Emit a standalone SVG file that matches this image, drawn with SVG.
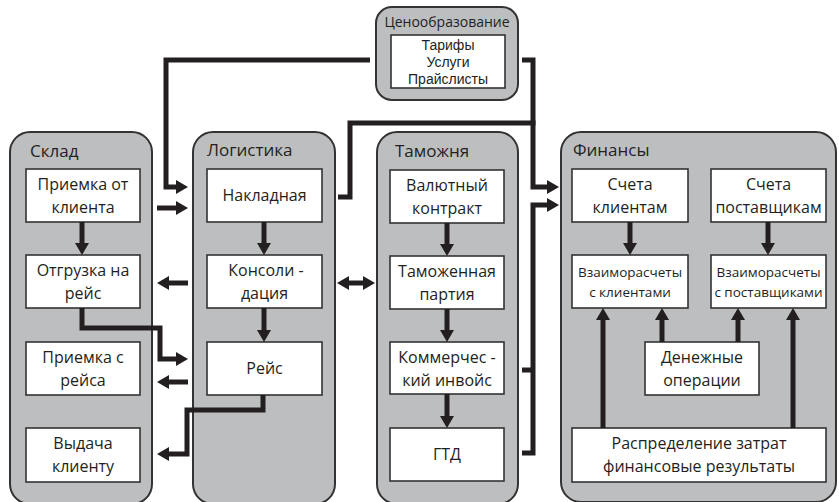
<svg xmlns="http://www.w3.org/2000/svg" width="839" height="502" viewBox="0 0 839 502">
  <defs>
    <marker id="ah" markerUnits="userSpaceOnUse" markerWidth="12" markerHeight="14" refX="0" refY="7" orient="auto-start-reverse" viewBox="0 0 12 14">
      <path d="M0,0 L12,7 L0,14 Z" fill="#231f20"/>
    </marker>
    <style>
      .panel { fill: #bcbec0; stroke: #333; stroke-width: 2; }
      .box { fill: #fff; stroke: #333; stroke-width: 1.6; }
      .ttl { font-family: "Open Sans", "Liberation Sans", sans-serif; font-size: 17px; fill: #231f20; }
      .t { font-family: "Open Sans", "Liberation Sans", sans-serif; font-size: 16px; fill: #231f20; text-anchor: middle; }
      .ts { font-family: "Open Sans", "Liberation Sans", sans-serif; font-size: 13.5px; fill: #231f20; text-anchor: middle; }
      .tp { font-family: "Liberation Sans", "Open Sans", sans-serif; font-size: 14px; fill: #231f20; text-anchor: middle; }
      .ln { fill: none; stroke: #231f20; stroke-width: 5; stroke-linejoin: miter; }
      .ar { fill: none; stroke: #231f20; stroke-width: 5; marker-end: url(#ah); }
    </style>
  </defs>
  <rect width="839" height="502" fill="#fff"/>

  <!-- Склад -->
  <g id="sklad">
    <rect class="panel" x="10" y="132" width="142" height="372" rx="20"/>
    <text class="ttl" x="30" y="157">Склад</text>
  </g>
  <g id="priemka-ot-klienta">
    <rect class="box" x="26" y="169" width="114" height="53"/>
    <text class="t" x="83" y="190">Приемка от</text>
    <text class="t" x="83" y="213">клиента</text>
  </g>
  <g id="otgruzka">
    <rect class="box" x="26" y="255" width="114" height="53"/>
    <text class="t" x="83" y="276">Отгрузка на</text>
    <text class="t" x="83" y="299">рейс</text>
  </g>
  <g id="priemka-s-reisa">
    <rect class="box" x="26" y="342" width="114" height="53"/>
    <text class="t" x="83" y="363">Приемка с</text>
    <text class="t" x="83" y="386">рейса</text>
  </g>
  <g id="vydacha">
    <rect class="box" x="26" y="428" width="114" height="54"/>
    <text class="t" x="83" y="449">Выдача</text>
    <text class="t" x="83" y="472">клиенту</text>
  </g>

  <!-- Логистика -->
  <g id="logistika">
    <rect class="panel" x="193" y="132" width="142" height="372" rx="20"/>
    <text class="ttl" x="207" y="156">Логистика</text>
  </g>
  <g id="nakladnaya">
    <rect class="box" x="207" y="169" width="115" height="53"/>
    <text class="t" x="264.5" y="201">Накладная</text>
  </g>
  <g id="konsolidaciya">
    <rect class="box" x="207" y="255" width="115" height="53"/>
    <text class="t" x="266" y="276">Консоли -</text>
    <text class="t" x="264.5" y="299">дация</text>
  </g>
  <g id="reis">
    <rect class="box" x="207" y="342" width="115" height="53"/>
    <text class="t" x="264.5" y="374">Рейс</text>
  </g>

  <!-- Таможня -->
  <g id="tamozhnya">
    <rect class="panel" x="377" y="132" width="141" height="372" rx="20"/>
    <text class="ttl" x="395" y="157">Таможня</text>
  </g>
  <g id="valyutny-kontrakt">
    <rect class="box" x="390" y="170" width="114" height="53"/>
    <text class="t" x="447" y="191">Валютный</text>
    <text class="t" x="447" y="214">контракт</text>
  </g>
  <g id="tamozhennaya-partiya">
    <rect class="box" x="390" y="256" width="114" height="53"/>
    <text class="t" x="447" y="277">Таможенная</text>
    <text class="t" x="447" y="300">партия</text>
  </g>
  <g id="invois">
    <rect class="box" x="390" y="342" width="114" height="52"/>
    <text class="t" x="447" y="363">Коммерчес -</text>
    <text class="t" x="447" y="386">кий инвойс</text>
  </g>
  <g id="gtd">
    <rect class="box" x="390" y="428" width="114" height="53"/>
    <text class="t" x="447" y="460">ГТД</text>
  </g>

  <!-- Ценообразование -->
  <g id="cenoobrazovanie">
    <rect class="panel" x="376" y="7" width="142" height="93" rx="16"/>
    <text class="t" x="447" y="27" style="font-size:14px">Ценообразование</text>
    <rect class="box" x="391" y="35" width="114" height="53"/>
    <text class="tp" x="448" y="50">Тарифы</text>
    <text class="tp" x="448" y="67">Услуги</text>
    <text class="tp" x="448" y="84">Прайслисты</text>
  </g>

  <!-- Финансы -->
  <g id="finansy">
    <rect class="panel" x="561" y="132" width="275" height="370" rx="20"/>
    <text class="ttl" x="573" y="156">Финансы</text>
  </g>
  <g id="scheta-klientam">
    <rect class="box" x="572" y="169" width="116" height="53"/>
    <text class="t" x="630" y="190">Счета</text>
    <text class="t" x="630" y="213">клиентам</text>
  </g>
  <g id="scheta-postavshchikam">
    <rect class="box" x="711" y="169" width="115" height="53"/>
    <text class="t" x="768.5" y="190">Счета</text>
    <text class="t" x="768.5" y="213">поставщикам</text>
  </g>
  <g id="vzaimoraschety-klienty">
    <rect class="box" x="572" y="255" width="116" height="53"/>
    <text class="ts" x="630" y="277">Взаиморасчеты</text>
    <text class="ts" x="630" y="297">с клиентами</text>
  </g>
  <g id="vzaimoraschety-postavshchiki">
    <rect class="box" x="711" y="255" width="115" height="53"/>
    <text class="ts" x="768.5" y="277">Взаиморасчеты</text>
    <text class="ts" x="768.5" y="297">с поставщиками</text>
  </g>
  <g id="denezhnye-operacii">
    <rect class="box" x="645" y="342" width="114" height="53"/>
    <text class="t" x="702" y="363">Денежные</text>
    <text class="t" x="702" y="386">операции</text>
  </g>
  <g id="raspredelenie">
    <rect class="box" x="572" y="428" width="254" height="54"/>
    <text class="t" x="699" y="449">Распределение затрат</text>
    <text class="t" x="699" y="472">финансовые результаты</text>
  </g>

  <!-- Связи -->
  <g id="connectors">
    <!-- внутри Склада -->
    <path class="ar" d="M82,222 V243"/>
    <!-- внутри Логистики -->
    <path class="ar" d="M264,222 V243"/>
    <path class="ar" d="M264,308 V330"/>
    <!-- внутри Таможни -->
    <path class="ar" d="M447,223 V244"/>
    <path class="ar" d="M447,309 V330"/>
    <path class="ar" d="M447,394 V416"/>
    <!-- внутри Финансов -->
    <path class="ar" d="M630,222 V243"/>
    <path class="ar" d="M768,222 V243"/>
    <path class="ar" d="M603,428 V320"/>
    <path class="ar" d="M793,428 V320"/>
    <path class="ar" d="M662,342 V320"/>
    <path class="ar" d="M738,342 V320"/>

    <!-- Ценообразование → Логистика -->
    <path class="ar" d="M370,60 H166 V187 H176"/>
    <!-- Склад → Логистика -->
    <path class="ar" d="M157,208 H176"/>
    <!-- Логистика → Отгрузка -->
    <path class="ar" d="M188,283 H169"/>
    <!-- Отгрузка → Рейс -->
    <path class="ar" d="M82,308 V328 H160 V359 H176"/>
    <!-- Рейс → Приемка с рейса -->
    <path class="ar" d="M188,382 H169"/>
    <!-- Рейс → Выдача -->
    <path class="ar" d="M263,395 V410 H187 V454 H169"/>
    <!-- Логистика ↔ Таможня -->
    <path class="ar" d="M349,283 H363" style="marker-start:url(#ah)"/>
    <!-- Накладная → Финансы (через общую шину) -->
    <path class="ln" d="M338,197 H350 V123 H535.5"/>
    <!-- Ценообразование → Финансы -->
    <path class="ar" d="M522,60 H533 V187 H547"/>
    <!-- Таможня → Финансы -->
    <path class="ar" d="M522,453 H533 V205 H547"/>
    <path class="ln" d="M522,370 H535"/>
  </g>
</svg>
